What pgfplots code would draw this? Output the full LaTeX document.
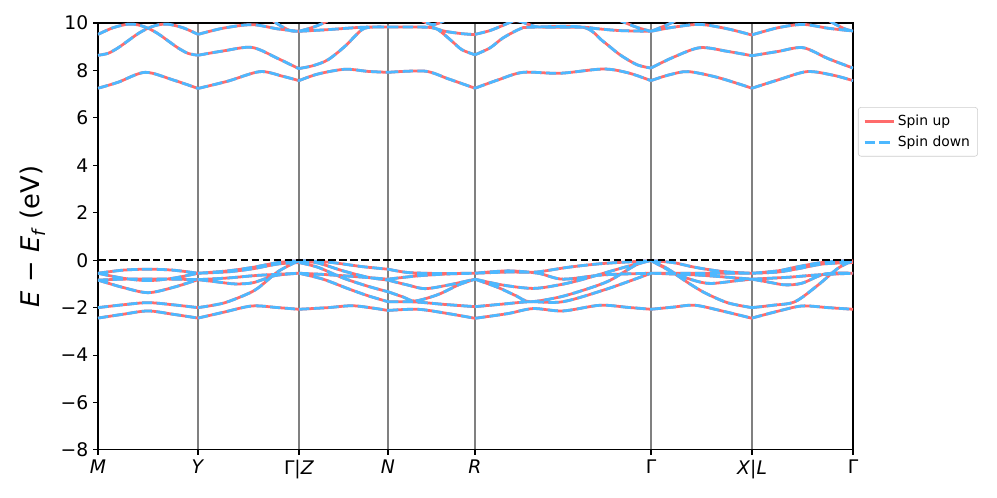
\documentclass[border=0pt]{standalone}
\usepackage{fontspec}
\setmainfont{DejaVu Sans}
\usepackage{pgfplots}
\usepackage{pgfplotstable}
\pgfplotsset{compat=1.18}

\definecolor{spinred}{HTML}{FF6B6B}
\definecolor{spinblue}{HTML}{4DB8FF}

% k-path positions: M=0, Y=100, Gamma|Z=201, N=290, R=377, Gamma=553, X|L=654, Gamma=755
% valence bands, one piece per segment, pieces split by nan rows
\pgfplotstableread{
x y
0 -0.55
25 -0.42
50 -0.38
75 -0.42
100 -0.55
nan nan
0 -0.55
25 -0.76
50 -0.86
75 -0.76
100 -0.55
nan nan
0 -0.84
25 -1.15
50 -1.37
75 -1.15
100 -0.82
nan nan
0 -0.84
25 -0.80
50 -0.79
75 -0.80
100 -0.82
nan nan
0 -2.00
25 -1.88
50 -1.79
75 -1.88
100 -2.00
nan nan
0 -2.44
25 -2.28
50 -2.14
75 -2.28
100 -2.44
nan nan
100 -0.55
130 -0.45
155 -0.30
180 -0.10
201 -0.02
nan nan
100 -0.55
130 -0.49
155 -0.36
180 -0.16
201 -0.10
nan nan
100 -0.82
120 -0.92
137 -1.00
155 -0.95
177 -0.65
201 -0.55
nan nan
100 -0.82
130 -0.75
160 -0.64
201 -0.55
nan nan
100 -2.00
115 -1.90
130 -1.75
157 -1.26
180 -0.48
201 -0.02
nan nan
100 -2.44
125 -2.20
154 -1.93
180 -2.00
201 -2.07
nan nan
201 -0.02
230 -0.08
264 -0.27
290 -0.38
nan nan
201 -0.02
220 -0.12
245 -0.45
270 -0.72
290 -0.84
nan nan
201 -0.10
220 -0.30
245 -0.75
270 -1.10
290 -1.33
nan nan
201 -0.55
225 -0.60
260 -0.70
290 -0.80
nan nan
201 -0.55
225 -0.80
250 -1.20
270 -1.50
290 -1.75
nan nan
201 -2.07
230 -2.00
254 -1.92
275 -2.02
290 -2.12
nan nan
290 -0.38
310 -0.52
340 -0.56
377 -0.55
nan nan
290 -0.80
320 -0.66
350 -0.58
377 -0.55
nan nan
290 -0.84
310 -1.05
327 -1.20
350 -1.05
377 -0.80
nan nan
290 -1.33
305 -1.55
317 -1.72
340 -1.45
360 -1.05
377 -0.80
nan nan
290 -1.75
317 -1.76
345 -1.86
377 -1.96
nan nan
290 -2.12
320 -2.07
350 -2.25
377 -2.45
nan nan
377 -0.55
410 -0.50
438 -0.50
470 -0.30
505 -0.14
553 -0.02
nan nan
377 -0.55
410 -0.45
440 -0.55
465 -0.80
505 -0.62
553 -0.55
nan nan
377 -0.80
405 -1.05
435 -1.19
460 -1.05
482 -0.84
522 -0.35
553 0.00
nan nan
377 -0.80
400 -1.15
418 -1.50
432 -1.75
462 -1.55
490 -1.20
512 -0.85
538 -0.20
553 -0.02
nan nan
377 -1.96
405 -1.85
432 -1.75
465 -1.75
510 -1.20
553 -0.55
nan nan
377 -2.45
410 -2.25
435 -2.04
465 -2.14
502 -1.90
530 -1.99
553 -2.07
nan nan
553 -0.02
575 -0.10
597 -0.30
625 -0.48
654 -0.55
nan nan
553 -0.02
567 -0.30
580 -0.62
600 -0.90
614 -0.98
640 -0.86
654 -0.80
nan nan
553 -0.02
574 -0.50
590 -0.95
607 -1.38
630 -1.80
654 -2.00
nan nan
553 -0.55
600 -0.55
654 -0.55
nan nan
553 -0.55
597 -0.62
630 -0.72
654 -0.80
nan nan
553 -2.07
575 -1.98
597 -1.90
625 -2.15
654 -2.45
nan nan
654 -0.55
680 -0.45
697 -0.30
720 -0.12
740 -0.04
755 -0.02
nan nan
654 -0.55
680 -0.50
700 -0.36
725 -0.16
755 -0.10
nan nan
654 -0.80
670 -0.92
687 -1.04
704 -0.97
727 -0.58
755 -0.55
nan nan
654 -0.80
690 -0.72
720 -0.62
755 -0.55
nan nan
654 -2.00
675 -1.90
697 -1.75
720 -1.05
740 -0.34
755 -0.02
nan nan
654 -2.44
680 -2.15
704 -1.93
730 -2.00
755 -2.07
}\valence

% conduction bands
\pgfplotstableread{
x y
0 7.25
20 7.50
47 7.92
75 7.60
100 7.24
nan nan
0 8.64
10 8.72
20 8.95
30 9.25
40 9.55
50 9.78
60 9.92
70 9.95
85 9.80
100 9.52
nan nan
0 9.52
15 9.80
30 9.95
40 9.92
50 9.78
60 9.55
70 9.25
80 8.95
90 8.72
100 8.64
nan nan
100 7.24
130 7.55
162 7.95
185 7.75
201 7.57
nan nan
100 9.52
125 9.78
154 9.93
180 9.75
201 9.65
nan nan
100 8.64
125 8.82
154 8.97
180 8.50
201 8.07
nan nan
165 10.40
180 9.95
192 9.68
201 9.65
nan nan
201 7.57
220 7.85
247 8.05
270 7.96
290 7.92
nan nan
201 9.65
230 9.72
264 9.82
290 9.83
nan nan
201 8.08
215 8.20
230 8.45
247 9.02
264 9.72
276 9.83
290 9.83
nan nan
201 9.65
215 9.82
228 10.05
240 10.40
nan nan
290 7.92
327 7.97
350 7.65
377 7.25
nan nan
290 9.83
330 9.82
347 9.65
364 9.55
377 9.51
nan nan
290 9.83
330 9.82
340 9.72
354 9.23
364 8.87
377 8.66
nan nan
315 10.30
335 9.93
355 10.30
nan nan
377 7.25
400 7.60
425 7.92
462 7.88
505 8.06
530 7.90
553 7.57
nan nan
377 9.52
392 9.68
405 9.90
418 10.10
430 9.95
442 9.83
485 9.82
499 9.76
522 9.68
553 9.65
nan nan
377 8.66
392 8.95
405 9.37
422 9.75
432 9.82
485 9.82
505 9.23
522 8.66
539 8.24
553 8.10
nan nan
505 10.40
525 10.05
540 9.80
553 9.65
nan nan
553 7.57
570 7.80
590 7.95
620 7.70
654 7.25
nan nan
553 9.65
575 9.82
602 9.94
630 9.75
654 9.49
nan nan
553 8.10
575 8.55
602 8.96
630 8.80
654 8.62
nan nan
553 9.65
565 9.85
578 10.10
590 10.40
nan nan
654 7.25
680 7.60
709 7.95
735 7.80
755 7.57
nan nan
654 9.50
680 9.80
705 9.94
730 9.78
755 9.66
nan nan
654 8.62
680 8.80
705 8.96
730 8.50
755 8.10
nan nan
720 10.40
735 10.00
747 9.75
755 9.66
}\conduction

\pgfplotsset{
  spinup/.style={color=spinred, line width=2pt, solid},
  spindown/.style={color=spinblue, line width=2pt, dash pattern=on 7.4pt off 3.2pt},
}

\begin{document}
\begin{tikzpicture}
\begin{axis}[
  scale only axis,
  width=543.6pt, height=307.4pt,
  xmin=0, xmax=755, ymin=-8, ymax=10,
  unbounded coords=jump,
  xtick={0,100,201,290,377,553,654,755},
  xticklabels={\textit{M},\textit{Y},Γ|\textit{Z},\textit{N},\textit{R},Γ,\textit{X}|\textit{L},Γ},
  ytick={-8,-6,-4,-2,0,2,4,6,8,10},
  yticklabels={−8,−6,−4,−2,0,2,4,6,8,10},
  tick pos=left, tick align=outside,
  major tick length=3.5pt,
  every tick/.style={black, line width=0.8pt},
  axis line style={line width=0.8pt},
  ticklabel style={font=\fontsize{13.5}{15}\selectfont},
  xmajorgrids,
  grid style={black!50, line width=1pt},
  ylabel={\textit{E} − \textit{E}\textsubscript{\textit{f}} (eV)},
  ylabel style={font=\fontsize{18.5}{22}\selectfont, at={(axis description cs:-0.0865,0.5)}, anchor=center},
  legend style={at={(1.0066,0.803)}, anchor=north west, draw=black!20, rounded corners=2pt,
    font=\fontsize{10}{12}\selectfont, row sep=2pt, inner sep=3.5pt},
  legend cell align=left,
  legend image code/.code={\draw[#1] (0pt,0pt) -- (21pt,0pt);},
]
\addlegendimage{spinup}
\addlegendentry{Spin up}
\addlegendimage{spindown}
\addlegendentry{Spin down}

\addplot[spinup, smooth, tension=0.5, forget plot] table {\valence};
\addplot[spinup, smooth, tension=0.5, forget plot] table {\conduction};
\addplot[spindown, smooth, tension=0.5, forget plot] table {\valence};
\addplot[spindown, smooth, tension=0.5, forget plot] table {\conduction};

\addplot[black, line width=1.5pt, dash pattern=on 5.5pt off 2.4pt, forget plot] coordinates {(0,0) (755,0)};
\end{axis}
\pgfresetboundingbox
\path ([shift={(-70.56pt,-34.56pt)}]current axis.south west) rectangle ([shift={(103.68pt,16.56pt)}]current axis.north east);
\end{tikzpicture}
\end{document}
